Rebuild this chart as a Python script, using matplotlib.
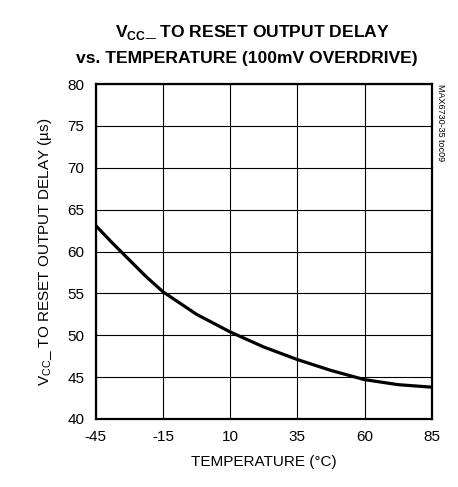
# Vcc to reset output delay vs temperature
import numpy as np
import matplotlib
matplotlib.use('Agg')
import matplotlib.pyplot as plt

plt.rcParams['font.family'] = ['Liberation Sans', 'DejaVu Sans']
plt.rcParams['mathtext.fontset'] = 'custom'
plt.rcParams['mathtext.rm'] = 'Liberation Sans'

# tick labels on the x axis (evenly spaced on the chart)
temp_ticks = [-45, -15, 10, 35, 60, 85]
delay_ticks = [40, 45, 50, 55, 60, 65, 70, 75, 80]

# curve
temp = [-45, -37.5, -30, -22.5, -15, -2.5, 10, 22.5, 35, 47.5, 60, 72.5, 85]
delay = [63.1, 61.0, 59.0, 57.0, 55.2, 52.5, 50.4, 48.6, 47.1, 45.8, 44.7, 44.1, 43.8]

fig = plt.figure(figsize=(4.58, 4.87), dpi=100)
ax = fig.add_axes([95.7 / 458, 1 - 419 / 487, 336 / 458, 335 / 487])

pos = np.interp(temp, temp_ticks, np.arange(len(temp_ticks)))
ax.plot(pos, delay, color='black', lw=2.3, solid_capstyle='butt')

ax.set_xlim(0, len(temp_ticks) - 1)
ax.set_ylim(delay_ticks[0], delay_ticks[-1])
ax.set_xticks(np.arange(len(temp_ticks)))
ax.set_xticklabels([str(t) for t in temp_ticks])
ax.set_yticks(delay_ticks)
ax.grid(True, color='black', lw=0.8)
ax.tick_params(length=0, labelsize=11, pad=8)
for s in ax.spines.values():
    s.set_linewidth(1.6)

ax.set_xlabel('TEMPERATURE (°C)', fontsize=11, labelpad=8)
ax.set_ylabel(r'V$_{\mathregular{CC}}$_ TO RESET OUTPUT DELAY (µs)', fontsize=11, labelpad=10)

fig.text(252 / 458, 1 - 32 / 487, r'V$_{\mathregular{CC}}$_ TO RESET OUTPUT DELAY',
         ha='center', va='center', fontsize=12.6, fontweight='bold')
fig.text(247 / 458, 1 - 58 / 487, 'vs. TEMPERATURE (100mV OVERDRIVE)',
         ha='center', va='center', fontsize=12.6, fontweight='bold')
fig.text(440 / 458, 1 - 84 / 487, 'MAX6730-35 toc09', rotation=-90,
         ha='center', va='top', fontsize=6.5)

fig.savefig('out.png', dpi=100)
